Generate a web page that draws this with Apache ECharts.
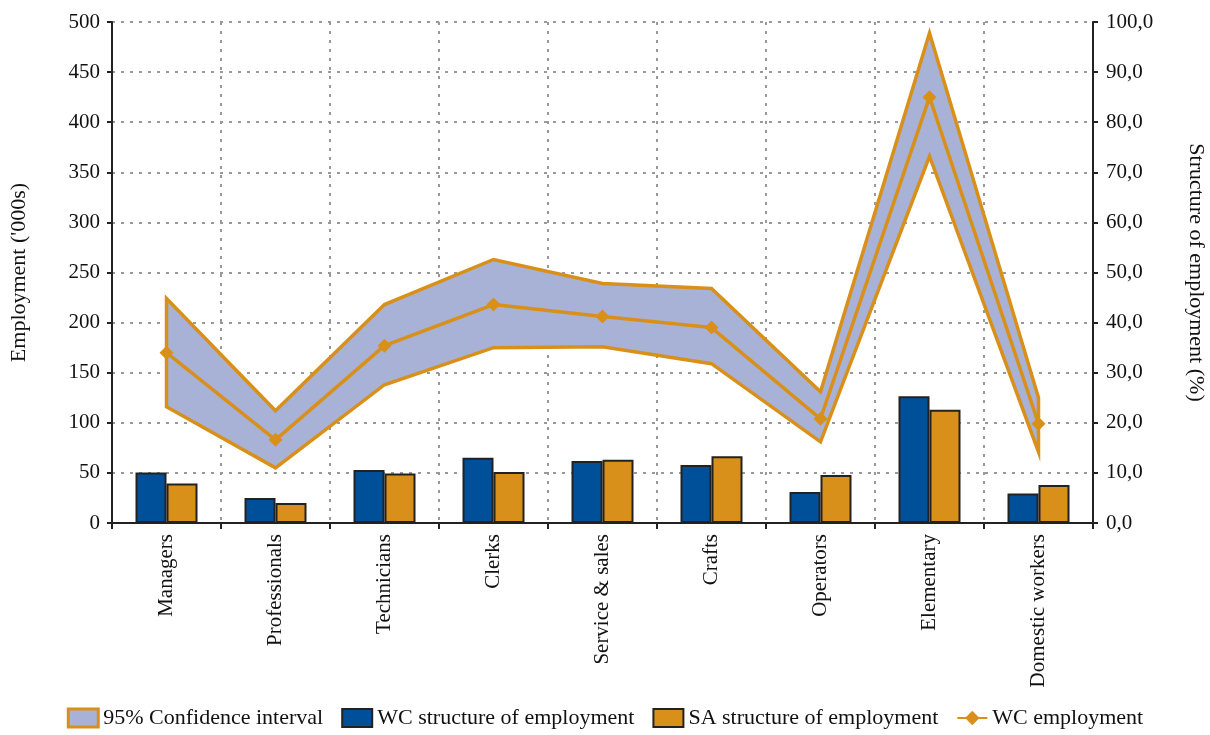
<!DOCTYPE html>
<html>
<head>
<meta charset="utf-8">
<script src="https://cdn.jsdelivr.net/npm/echarts@6/dist/echarts.min.js"></script>
<style>
  html, body { margin: 0; padding: 0; background: #fff; }
  #chart { width: 1210px; height: 735px; }
</style>
</head>
<body>
<div id="chart"></div>
<script>
const categories = ['Managers', 'Professionals', 'Technicians', 'Clerks', 'Service & sales', 'Crafts', 'Operators', 'Elementary', 'Domestic workers'];
// employment ('000s), left axis
const wcEmployment = [170, 83, 177, 218, 206, 195, 104, 425, 99];
const ciLower = [116, 55, 138, 175, 176, 159, 81, 366, 71];
const ciUpper = [224, 112, 218, 263, 239, 234, 131, 489, 125];
// structure of employment (%), right axis
const wcStructure = [10.1, 5.0, 10.6, 13.0, 12.4, 11.6, 6.2, 25.3, 5.9];
const saStructure = [7.9, 4.0, 9.9, 10.2, 12.6, 13.3, 9.6, 22.6, 7.6];

const orange = '#d9901a';
const blue = '#004f99';
const band = '#a8b2d6';
const font = 'Liberation Serif';

const bandData = categories.map((c, i) => [i, ciLower[i], ciUpper[i]]);

const chart = echarts.init(document.getElementById('chart'));
chart.setOption({
  animation: false,
  textStyle: { fontFamily: font, color: '#111' },
  grid: { left: 112, right: 117, top: 22, bottom: 212, outerBoundsMode: 'none' },
  legend: {
    bottom: 1,
    left: 'center',
    itemWidth: 30,
    itemHeight: 18,
    itemGap: 18,
    textStyle: { fontFamily: font, fontSize: 22, color: '#111' },
    data: [
      { name: '95% Confidence interval', icon: 'rect', itemStyle: { color: band, borderColor: orange, borderWidth: 3 } },
      { name: 'WC structure of employment', icon: 'rect', itemStyle: { color: blue, borderColor: '#222', borderWidth: 2 } },
      { name: 'SA structure of employment', icon: 'rect', itemStyle: { color: orange, borderColor: '#222', borderWidth: 2 } },
      { name: 'WC employment' }
    ]
  },
  xAxis: {
    type: 'category',
    data: categories,
    axisLine: { lineStyle: { color: '#222', width: 2 } },
    axisTick: { show: true, length: 6, lineStyle: { color: '#222', width: 2 } },
    axisLabel: { rotate: 90, fontSize: 21, color: '#111', margin: 11, interval: 0 },
    splitLine: { show: true, lineStyle: { color: '#999', type: [3, 6], width: 2 } }
  },
  yAxis: [
    {
      type: 'value',
      min: 0, max: 500, interval: 50,
      name: "Employment ('000s)",
      nameLocation: 'middle',
      nameGap: 82,
      nameRotate: 90,
      nameTextStyle: { fontSize: 22, color: '#111' },
      axisLine: { show: true, lineStyle: { color: '#222', width: 2 } },
      axisTick: { show: true, inside: false, length: 5, lineStyle: { color: '#222', width: 2 } },
      axisLabel: { fontSize: 21, color: '#111', margin: 12 },
      splitLine: { show: true, lineStyle: { color: '#999', type: [3, 6], width: 2 } }
    },
    {
      type: 'value',
      min: 0, max: 100, interval: 10,
      position: 'right',
      name: 'Structure of employment (%)',
      nameLocation: 'middle',
      nameGap: 92,
      nameRotate: -90,
      nameTextStyle: { fontSize: 22, color: '#111' },
      axisLine: { show: true, lineStyle: { color: '#222', width: 2 } },
      axisTick: { show: true, length: 5, lineStyle: { color: '#222', width: 2 } },
      axisLabel: { fontSize: 21, color: '#111', margin: 13, formatter: v => v.toFixed(1).replace('.', ',') },
      splitLine: { show: false }
    }
  ],
  series: [
    {
      name: '95% Confidence interval',
      type: 'custom',
      yAxisIndex: 0,
      z: 1,
      itemStyle: { color: band, borderColor: orange },
      data: bandData,
      renderItem: function (params, api) {
        if (params.dataIndex !== 0) return null;
        const pts = [];
        for (let i = 0; i < bandData.length; i++) pts.push(api.coord([i, bandData[i][2]]));
        for (let i = bandData.length - 1; i >= 0; i--) pts.push(api.coord([i, bandData[i][1]]));
        return {
          type: 'polygon',
          shape: { points: pts },
          style: { fill: band, stroke: orange, lineWidth: 3.5, lineJoin: 'miter' }
        };
      }
    },
    {
      name: 'WC structure of employment',
      type: 'bar',
      yAxisIndex: 1,
      barWidth: 31,
      barGap: '0%',
      itemStyle: { color: blue, borderColor: '#222', borderWidth: 2 },
      data: wcStructure
    },
    {
      name: 'SA structure of employment',
      type: 'bar',
      yAxisIndex: 1,
      barWidth: 31,
      barGap: '0%',
      itemStyle: { color: orange, borderColor: '#222', borderWidth: 2 },
      data: saStructure
    },
    {
      name: 'WC employment',
      type: 'line',
      yAxisIndex: 0,
      z: 5,
      symbol: 'diamond',
      symbolSize: 14,
      lineStyle: { color: orange, width: 3.5 },
      itemStyle: { color: orange },
      data: wcEmployment
    }
  ]
});
</script>
</body>
</html>
